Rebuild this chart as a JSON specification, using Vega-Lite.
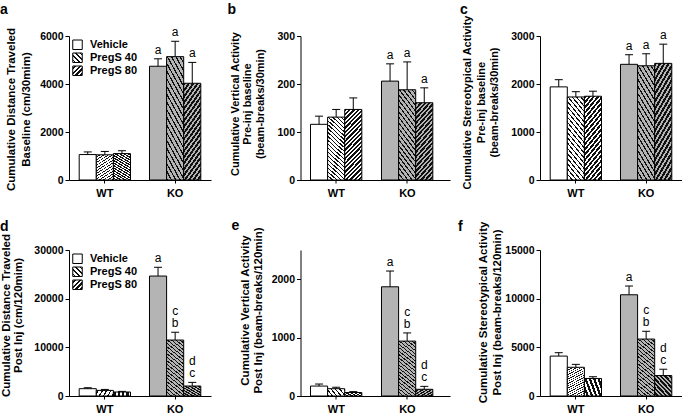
{
"$schema":"https://vega.github.io/schema/vega-lite/v6.json",
"padding":{"left":0,"top":2,"right":0,"bottom":0},
"config":{
 "view":{"stroke":null},
 "font":"Liberation Sans",
 "axis":{"labelFont":"Liberation Sans","labelFontWeight":"bold","labelFontSize":10.5,"labelColor":"#000","titleFont":"Liberation Sans","titleFontWeight":"bold","titleFontSize":11.5,"titleColor":"#000","domainColor":"#000","tickColor":"#000","grid":false,"tickSize":4,"labelPadding":2},
 "axisX":{"labelFontSize":11,"tickSize":3,"labelPadding":4,"labelAngle":0},
 "axisY":{"format":"d"},
 "title":{"font":"Liberation Sans","fontSize":14,"fontWeight":"bold","anchor":"start","frame":"group","color":"#000"},
 "tick":{"opacity":1}
},
"params":[
 {"name":"g40w","value":{"gradient":"linear","x1":0,"y1":1,"x2":0.2941,"y2":-0.1765,"stops":[
{"offset":0,"color":"#111"},{"offset":0.016,"color":"#111"},{"offset":0.016,"color":"#fff"},{"offset":0.05,"color":"#fff"},
{"offset":0.05,"color":"#111"},{"offset":0.066,"color":"#111"},{"offset":0.066,"color":"#fff"},{"offset":0.1,"color":"#fff"},
{"offset":0.1,"color":"#111"},{"offset":0.116,"color":"#111"},{"offset":0.116,"color":"#fff"},{"offset":0.15,"color":"#fff"},
{"offset":0.15,"color":"#111"},{"offset":0.166,"color":"#111"},{"offset":0.166,"color":"#fff"},{"offset":0.2,"color":"#fff"},
{"offset":0.2,"color":"#111"},{"offset":0.216,"color":"#111"},{"offset":0.216,"color":"#fff"},{"offset":0.25,"color":"#fff"},
{"offset":0.25,"color":"#111"},{"offset":0.266,"color":"#111"},{"offset":0.266,"color":"#fff"},{"offset":0.3,"color":"#fff"},
{"offset":0.3,"color":"#111"},{"offset":0.316,"color":"#111"},{"offset":0.316,"color":"#fff"},{"offset":0.35,"color":"#fff"},
{"offset":0.35,"color":"#111"},{"offset":0.366,"color":"#111"},{"offset":0.366,"color":"#fff"},{"offset":0.4,"color":"#fff"},
{"offset":0.4,"color":"#111"},{"offset":0.416,"color":"#111"},{"offset":0.416,"color":"#fff"},{"offset":0.45,"color":"#fff"},
{"offset":0.45,"color":"#111"},{"offset":0.466,"color":"#111"},{"offset":0.466,"color":"#fff"},{"offset":0.5,"color":"#fff"},
{"offset":0.5,"color":"#111"},{"offset":0.516,"color":"#111"},{"offset":0.516,"color":"#fff"},{"offset":0.55,"color":"#fff"},
{"offset":0.55,"color":"#111"},{"offset":0.566,"color":"#111"},{"offset":0.566,"color":"#fff"},{"offset":0.6,"color":"#fff"},
{"offset":0.6,"color":"#111"},{"offset":0.616,"color":"#111"},{"offset":0.616,"color":"#fff"},{"offset":0.65,"color":"#fff"},
{"offset":0.65,"color":"#111"},{"offset":0.666,"color":"#111"},{"offset":0.666,"color":"#fff"},{"offset":0.7,"color":"#fff"},
{"offset":0.7,"color":"#111"},{"offset":0.716,"color":"#111"},{"offset":0.716,"color":"#fff"},{"offset":0.75,"color":"#fff"},
{"offset":0.75,"color":"#111"},{"offset":0.766,"color":"#111"},{"offset":0.766,"color":"#fff"},{"offset":0.8,"color":"#fff"},
{"offset":0.8,"color":"#111"},{"offset":0.816,"color":"#111"},{"offset":0.816,"color":"#fff"},{"offset":0.85,"color":"#fff"},
{"offset":0.85,"color":"#111"},{"offset":0.866,"color":"#111"},{"offset":0.866,"color":"#fff"},{"offset":0.9,"color":"#fff"},
{"offset":0.9,"color":"#111"},{"offset":0.916,"color":"#111"},{"offset":0.916,"color":"#fff"},{"offset":0.95,"color":"#fff"},
{"offset":0.95,"color":"#111"},{"offset":0.966,"color":"#111"},{"offset":0.966,"color":"#fff"},{"offset":1,"color":"#fff"}]}},
 {"name":"g80w","value":{"gradient":"linear","x1":0,"y1":0,"x2":0.2941,"y2":1.1765,"stops":[
{"offset":0,"color":"#111"},{"offset":0.027,"color":"#111"},{"offset":0.027,"color":"#fff"},{"offset":0.05,"color":"#fff"},
{"offset":0.05,"color":"#111"},{"offset":0.077,"color":"#111"},{"offset":0.077,"color":"#fff"},{"offset":0.1,"color":"#fff"},
{"offset":0.1,"color":"#111"},{"offset":0.127,"color":"#111"},{"offset":0.127,"color":"#fff"},{"offset":0.15,"color":"#fff"},
{"offset":0.15,"color":"#111"},{"offset":0.177,"color":"#111"},{"offset":0.177,"color":"#fff"},{"offset":0.2,"color":"#fff"},
{"offset":0.2,"color":"#111"},{"offset":0.227,"color":"#111"},{"offset":0.227,"color":"#fff"},{"offset":0.25,"color":"#fff"},
{"offset":0.25,"color":"#111"},{"offset":0.277,"color":"#111"},{"offset":0.277,"color":"#fff"},{"offset":0.3,"color":"#fff"},
{"offset":0.3,"color":"#111"},{"offset":0.327,"color":"#111"},{"offset":0.327,"color":"#fff"},{"offset":0.35,"color":"#fff"},
{"offset":0.35,"color":"#111"},{"offset":0.377,"color":"#111"},{"offset":0.377,"color":"#fff"},{"offset":0.4,"color":"#fff"},
{"offset":0.4,"color":"#111"},{"offset":0.427,"color":"#111"},{"offset":0.427,"color":"#fff"},{"offset":0.45,"color":"#fff"},
{"offset":0.45,"color":"#111"},{"offset":0.477,"color":"#111"},{"offset":0.477,"color":"#fff"},{"offset":0.5,"color":"#fff"},
{"offset":0.5,"color":"#111"},{"offset":0.527,"color":"#111"},{"offset":0.527,"color":"#fff"},{"offset":0.55,"color":"#fff"},
{"offset":0.55,"color":"#111"},{"offset":0.577,"color":"#111"},{"offset":0.577,"color":"#fff"},{"offset":0.6,"color":"#fff"},
{"offset":0.6,"color":"#111"},{"offset":0.627,"color":"#111"},{"offset":0.627,"color":"#fff"},{"offset":0.65,"color":"#fff"},
{"offset":0.65,"color":"#111"},{"offset":0.677,"color":"#111"},{"offset":0.677,"color":"#fff"},{"offset":0.7,"color":"#fff"},
{"offset":0.7,"color":"#111"},{"offset":0.727,"color":"#111"},{"offset":0.727,"color":"#fff"},{"offset":0.75,"color":"#fff"},
{"offset":0.75,"color":"#111"},{"offset":0.777,"color":"#111"},{"offset":0.777,"color":"#fff"},{"offset":0.8,"color":"#fff"},
{"offset":0.8,"color":"#111"},{"offset":0.827,"color":"#111"},{"offset":0.827,"color":"#fff"},{"offset":0.85,"color":"#fff"},
{"offset":0.85,"color":"#111"},{"offset":0.877,"color":"#111"},{"offset":0.877,"color":"#fff"},{"offset":0.9,"color":"#fff"},
{"offset":0.9,"color":"#111"},{"offset":0.927,"color":"#111"},{"offset":0.927,"color":"#fff"},{"offset":0.95,"color":"#fff"},
{"offset":0.95,"color":"#111"},{"offset":0.977,"color":"#111"},{"offset":0.977,"color":"#fff"},{"offset":1,"color":"#fff"}]}},
 {"name":"g40k","value":{"gradient":"linear","x1":0,"y1":1,"x2":0.2941,"y2":-0.1765,"stops":[
{"offset":0,"color":"#111"},{"offset":0.016,"color":"#111"},{"offset":0.016,"color":"#b4b4b4"},{"offset":0.05,"color":"#b4b4b4"},
{"offset":0.05,"color":"#111"},{"offset":0.066,"color":"#111"},{"offset":0.066,"color":"#b4b4b4"},{"offset":0.1,"color":"#b4b4b4"},
{"offset":0.1,"color":"#111"},{"offset":0.116,"color":"#111"},{"offset":0.116,"color":"#b4b4b4"},{"offset":0.15,"color":"#b4b4b4"},
{"offset":0.15,"color":"#111"},{"offset":0.166,"color":"#111"},{"offset":0.166,"color":"#b4b4b4"},{"offset":0.2,"color":"#b4b4b4"},
{"offset":0.2,"color":"#111"},{"offset":0.216,"color":"#111"},{"offset":0.216,"color":"#b4b4b4"},{"offset":0.25,"color":"#b4b4b4"},
{"offset":0.25,"color":"#111"},{"offset":0.266,"color":"#111"},{"offset":0.266,"color":"#b4b4b4"},{"offset":0.3,"color":"#b4b4b4"},
{"offset":0.3,"color":"#111"},{"offset":0.316,"color":"#111"},{"offset":0.316,"color":"#b4b4b4"},{"offset":0.35,"color":"#b4b4b4"},
{"offset":0.35,"color":"#111"},{"offset":0.366,"color":"#111"},{"offset":0.366,"color":"#b4b4b4"},{"offset":0.4,"color":"#b4b4b4"},
{"offset":0.4,"color":"#111"},{"offset":0.416,"color":"#111"},{"offset":0.416,"color":"#b4b4b4"},{"offset":0.45,"color":"#b4b4b4"},
{"offset":0.45,"color":"#111"},{"offset":0.466,"color":"#111"},{"offset":0.466,"color":"#b4b4b4"},{"offset":0.5,"color":"#b4b4b4"},
{"offset":0.5,"color":"#111"},{"offset":0.516,"color":"#111"},{"offset":0.516,"color":"#b4b4b4"},{"offset":0.55,"color":"#b4b4b4"},
{"offset":0.55,"color":"#111"},{"offset":0.566,"color":"#111"},{"offset":0.566,"color":"#b4b4b4"},{"offset":0.6,"color":"#b4b4b4"},
{"offset":0.6,"color":"#111"},{"offset":0.616,"color":"#111"},{"offset":0.616,"color":"#b4b4b4"},{"offset":0.65,"color":"#b4b4b4"},
{"offset":0.65,"color":"#111"},{"offset":0.666,"color":"#111"},{"offset":0.666,"color":"#b4b4b4"},{"offset":0.7,"color":"#b4b4b4"},
{"offset":0.7,"color":"#111"},{"offset":0.716,"color":"#111"},{"offset":0.716,"color":"#b4b4b4"},{"offset":0.75,"color":"#b4b4b4"},
{"offset":0.75,"color":"#111"},{"offset":0.766,"color":"#111"},{"offset":0.766,"color":"#b4b4b4"},{"offset":0.8,"color":"#b4b4b4"},
{"offset":0.8,"color":"#111"},{"offset":0.816,"color":"#111"},{"offset":0.816,"color":"#b4b4b4"},{"offset":0.85,"color":"#b4b4b4"},
{"offset":0.85,"color":"#111"},{"offset":0.866,"color":"#111"},{"offset":0.866,"color":"#b4b4b4"},{"offset":0.9,"color":"#b4b4b4"},
{"offset":0.9,"color":"#111"},{"offset":0.916,"color":"#111"},{"offset":0.916,"color":"#b4b4b4"},{"offset":0.95,"color":"#b4b4b4"},
{"offset":0.95,"color":"#111"},{"offset":0.966,"color":"#111"},{"offset":0.966,"color":"#b4b4b4"},{"offset":1,"color":"#b4b4b4"}]}},
 {"name":"g80k","value":{"gradient":"linear","x1":0,"y1":0,"x2":0.2941,"y2":1.1765,"stops":[
{"offset":0,"color":"#111"},{"offset":0.027,"color":"#111"},{"offset":0.027,"color":"#b4b4b4"},{"offset":0.05,"color":"#b4b4b4"},
{"offset":0.05,"color":"#111"},{"offset":0.077,"color":"#111"},{"offset":0.077,"color":"#b4b4b4"},{"offset":0.1,"color":"#b4b4b4"},
{"offset":0.1,"color":"#111"},{"offset":0.127,"color":"#111"},{"offset":0.127,"color":"#b4b4b4"},{"offset":0.15,"color":"#b4b4b4"},
{"offset":0.15,"color":"#111"},{"offset":0.177,"color":"#111"},{"offset":0.177,"color":"#b4b4b4"},{"offset":0.2,"color":"#b4b4b4"},
{"offset":0.2,"color":"#111"},{"offset":0.227,"color":"#111"},{"offset":0.227,"color":"#b4b4b4"},{"offset":0.25,"color":"#b4b4b4"},
{"offset":0.25,"color":"#111"},{"offset":0.277,"color":"#111"},{"offset":0.277,"color":"#b4b4b4"},{"offset":0.3,"color":"#b4b4b4"},
{"offset":0.3,"color":"#111"},{"offset":0.327,"color":"#111"},{"offset":0.327,"color":"#b4b4b4"},{"offset":0.35,"color":"#b4b4b4"},
{"offset":0.35,"color":"#111"},{"offset":0.377,"color":"#111"},{"offset":0.377,"color":"#b4b4b4"},{"offset":0.4,"color":"#b4b4b4"},
{"offset":0.4,"color":"#111"},{"offset":0.427,"color":"#111"},{"offset":0.427,"color":"#b4b4b4"},{"offset":0.45,"color":"#b4b4b4"},
{"offset":0.45,"color":"#111"},{"offset":0.477,"color":"#111"},{"offset":0.477,"color":"#b4b4b4"},{"offset":0.5,"color":"#b4b4b4"},
{"offset":0.5,"color":"#111"},{"offset":0.527,"color":"#111"},{"offset":0.527,"color":"#b4b4b4"},{"offset":0.55,"color":"#b4b4b4"},
{"offset":0.55,"color":"#111"},{"offset":0.577,"color":"#111"},{"offset":0.577,"color":"#b4b4b4"},{"offset":0.6,"color":"#b4b4b4"},
{"offset":0.6,"color":"#111"},{"offset":0.627,"color":"#111"},{"offset":0.627,"color":"#b4b4b4"},{"offset":0.65,"color":"#b4b4b4"},
{"offset":0.65,"color":"#111"},{"offset":0.677,"color":"#111"},{"offset":0.677,"color":"#b4b4b4"},{"offset":0.7,"color":"#b4b4b4"},
{"offset":0.7,"color":"#111"},{"offset":0.727,"color":"#111"},{"offset":0.727,"color":"#b4b4b4"},{"offset":0.75,"color":"#b4b4b4"},
{"offset":0.75,"color":"#111"},{"offset":0.777,"color":"#111"},{"offset":0.777,"color":"#b4b4b4"},{"offset":0.8,"color":"#b4b4b4"},
{"offset":0.8,"color":"#111"},{"offset":0.827,"color":"#111"},{"offset":0.827,"color":"#b4b4b4"},{"offset":0.85,"color":"#b4b4b4"},
{"offset":0.85,"color":"#111"},{"offset":0.877,"color":"#111"},{"offset":0.877,"color":"#b4b4b4"},{"offset":0.9,"color":"#b4b4b4"},
{"offset":0.9,"color":"#111"},{"offset":0.927,"color":"#111"},{"offset":0.927,"color":"#b4b4b4"},{"offset":0.95,"color":"#b4b4b4"},
{"offset":0.95,"color":"#111"},{"offset":0.977,"color":"#111"},{"offset":0.977,"color":"#b4b4b4"},{"offset":1,"color":"#b4b4b4"}]}},
 {"name":"l40","value":{"gradient":"linear","x1":0,"y1":1,"x2":1,"y2":0,"stops":[
{"offset":0,"color":"#fff"},{"offset":0.1,"color":"#fff"},{"offset":0.1,"color":"#111"},{"offset":0.18,"color":"#111"},{"offset":0.18,"color":"#fff"},
{"offset":0.35,"color":"#fff"},{"offset":0.35,"color":"#111"},{"offset":0.43,"color":"#111"},{"offset":0.43,"color":"#fff"},
{"offset":0.6,"color":"#fff"},{"offset":0.6,"color":"#111"},{"offset":0.68,"color":"#111"},{"offset":0.68,"color":"#fff"},
{"offset":0.85,"color":"#fff"},{"offset":0.85,"color":"#111"},{"offset":0.93,"color":"#111"},{"offset":0.93,"color":"#fff"},{"offset":1,"color":"#fff"}]}},
 {"name":"l80","value":{"gradient":"linear","x1":0,"y1":0,"x2":1,"y2":1,"stops":[
{"offset":0,"color":"#fff"},{"offset":0.09,"color":"#fff"},{"offset":0.09,"color":"#111"},{"offset":0.21,"color":"#111"},{"offset":0.21,"color":"#fff"},
{"offset":0.34,"color":"#fff"},{"offset":0.34,"color":"#111"},{"offset":0.46,"color":"#111"},{"offset":0.46,"color":"#fff"},
{"offset":0.59,"color":"#fff"},{"offset":0.59,"color":"#111"},{"offset":0.71,"color":"#111"},{"offset":0.71,"color":"#fff"},
{"offset":0.84,"color":"#fff"},{"offset":0.84,"color":"#111"},{"offset":0.96,"color":"#111"},{"offset":0.96,"color":"#fff"},{"offset":1,"color":"#fff"}]}}
],
"data":{"values":[
{"p":"a","g":"WT","t":"Vehicle","m":1060,"u":1170},
{"p":"a","g":"WT","t":"PregS 40","m":1050,"u":1190},
{"p":"a","g":"WT","t":"PregS 80","m":1100,"u":1220},
{"p":"a","g":"KO","t":"Vehicle","m":4740,"u":5050,"l2":"a"},
{"p":"a","g":"KO","t":"PregS 40","m":5140,"u":5780,"l2":"a"},
{"p":"a","g":"KO","t":"PregS 80","m":4030,"u":4900,"l2":"a"},
{"p":"b","g":"WT","t":"Vehicle","m":116,"u":133},
{"p":"b","g":"WT","t":"PregS 40","m":131,"u":147},
{"p":"b","g":"WT","t":"PregS 80","m":147,"u":171},
{"p":"b","g":"KO","t":"Vehicle","m":206,"u":242,"l2":"a"},
{"p":"b","g":"KO","t":"PregS 40","m":188,"u":246,"l2":"a"},
{"p":"b","g":"KO","t":"PregS 80","m":161,"u":192,"l2":"a"},
{"p":"c","g":"WT","t":"Vehicle","m":1940,"u":2090},
{"p":"c","g":"WT","t":"PregS 40","m":1730,"u":1840},
{"p":"c","g":"WT","t":"PregS 80","m":1745,"u":1850},
{"p":"c","g":"KO","t":"Vehicle","m":2410,"u":2610,"l2":"a"},
{"p":"c","g":"KO","t":"PregS 40","m":2380,"u":2630,"l2":"a"},
{"p":"c","g":"KO","t":"PregS 80","m":2430,"u":2830,"l2":"a"},
{"p":"d","g":"WT","t":"Vehicle","m":1500,"u":1700},
{"p":"d","g":"WT","t":"PregS 40","m":1150,"u":1350},
{"p":"d","g":"WT","t":"PregS 80","m":820,"u":950},
{"p":"d","g":"KO","t":"Vehicle","m":24650,"u":26450,"l2":"a"},
{"p":"d","g":"KO","t":"PregS 40","m":11500,"u":13100,"l1":"c","l2":"b"},
{"p":"d","g":"KO","t":"PregS 80","m":2050,"u":2800,"l1":"d","l2":"c"},
{"p":"e","g":"WT","t":"Vehicle","m":170,"u":205},
{"p":"e","g":"WT","t":"PregS 40","m":125,"u":150},
{"p":"e","g":"WT","t":"PregS 80","m":60,"u":75},
{"p":"e","g":"KO","t":"Vehicle","m":1870,"u":2140,"l2":"a"},
{"p":"e","g":"KO","t":"PregS 40","m":940,"u":1080,"l1":"c","l2":"b"},
{"p":"e","g":"KO","t":"PregS 80","m":115,"u":165,"l1":"d","l2":"c"},
{"p":"f","g":"WT","t":"Vehicle","m":4100,"u":4450},
{"p":"f","g":"WT","t":"PregS 40","m":2950,"u":3250},
{"p":"f","g":"WT","t":"PregS 80","m":1800,"u":1980},
{"p":"f","g":"KO","t":"Vehicle","m":10400,"u":11300,"l2":"a"},
{"p":"f","g":"KO","t":"PregS 40","m":5850,"u":6650,"l1":"c","l2":"b"},
{"p":"f","g":"KO","t":"PregS 80","m":2100,"u":2750,"l1":"d","l2":"c"}
]},
"columns":3,
"bounds":"flush",
"align":"each",
"spacing":{"row":70,"column":89.5},
"resolve":{"legend":{"fill":"independent"}},
"concat":[
{"width":142,"height":144,
 "title":{"text":"a","dx":-69,"offset":9},
 "transform":[{"filter":"datum.p==='a'"}],
 "encoding":{
  "x":{"field":"g","type":"nominal","sort":["WT","KO"],"scale":{"paddingInner":0.27,"paddingOuter":0.145},"axis":{"title":null}},
  "xOffset":{"field":"t","type":"nominal","sort":["Vehicle","PregS 40","PregS 80"],"scale":{"paddingInner":0,"paddingOuter":0}}
 },
 "layer":[
  {"mark":{"type":"bar","stroke":"#000","strokeWidth":1},
   "encoding":{
    "y":{"field":"m","type":"quantitative","scale":{"domain":[0,6000],"nice":false},"axis":{"title":["Cumulative  Distance Traveled","Baseline (cm/30mim)"],"values":[0,2000,4000,6000],"titleLineHeight":15,"titlePadding":9,"titleY":73,"minExtent":29,"maxExtent":29}},
    "fill":{"field":"t","type":"nominal","scale":{"domain":["Vehicle","PregS 40","PregS 80"],"range":["#fff",{"expr":"l40"},{"expr":"l80"}]},
     "condition":[
      {"test":"datum.g==='WT'&&datum.t==='PregS 40'","value":{"expr":"g40w"}},
      {"test":"datum.g==='WT'&&datum.t==='PregS 80'","value":{"expr":"g80w"}},
      {"test":"datum.g==='KO'&&datum.t==='PregS 40'","value":{"expr":"g40k"}},
      {"test":"datum.g==='KO'&&datum.t==='PregS 80'","value":{"expr":"g80k"}},
      {"test":"datum.g==='KO'","value":"#b4b4b4"}],
     "legend":{"title":null,"orient":"top-left","offset":3,"padding":0,"symbolType":"square","symbolSize":90,"symbolStrokeColor":"#000","symbolStrokeWidth":1,"symbolOpacity":1,"labelFont":"Liberation Sans","labelFontSize":11,"labelFontWeight":"bold","labelColor":"#000","labelOffset":7,"rowPadding":0,"clipHeight":11.5}}
   }},
  {"mark":{"type":"rule","color":"#000","strokeWidth":1},"encoding":{"y":{"field":"m","type":"quantitative"},"y2":{"field":"u"}}},
  {"mark":{"type":"tick","orient":"horizontal","color":"#000","size":8,"thickness":1},"encoding":{"y":{"field":"u","type":"quantitative"}}},
  {"transform":[{"filter":"datum.l2"}],"mark":{"type":"text","baseline":"bottom","dy":-2,"fontSize":12,"color":"#000"},"encoding":{"y":{"field":"u","type":"quantitative"},"text":{"field":"l2","type":"nominal"}}}
 ]},
{"width":149.5,"height":144,
 "title":{"text":"b","dx":-73,"offset":14.5},
 "transform":[{"filter":"datum.p==='b'"}],
 "encoding":{
  "x":{"field":"g","type":"nominal","sort":["WT","KO"],"scale":{"paddingInner":0.27,"paddingOuter":0.188,"align":0.375},"axis":{"title":null}},
  "xOffset":{"field":"t","type":"nominal","sort":["Vehicle","PregS 40","PregS 80"],"scale":{"paddingInner":0,"paddingOuter":0}}
 },
 "layer":[
  {"mark":{"type":"bar","stroke":"#000","strokeWidth":1},
   "encoding":{
    "y":{"field":"m","type":"quantitative","scale":{"domain":[0,300],"nice":false},"axis":{"title":["Cumulative Vertical Activity","Pre-inj baseline","(beam-breaks/30min)"],"values":[0,100,200,300],"titleFontSize":11,"titleLineHeight":12.5,"titlePadding":12,"titleY":67.5,"minExtent":23.5,"maxExtent":23.5}},
    "fill":{"field":"t","type":"nominal","scale":{"domain":["Vehicle","PregS 40","PregS 80"],"range":["#fff",{"expr":"l40"},{"expr":"l80"}]},
     "condition":[
      {"test":"datum.g==='WT'&&datum.t==='PregS 40'","value":{"expr":"g40w"}},
      {"test":"datum.g==='WT'&&datum.t==='PregS 80'","value":{"expr":"g80w"}},
      {"test":"datum.g==='KO'&&datum.t==='PregS 40'","value":{"expr":"g40k"}},
      {"test":"datum.g==='KO'&&datum.t==='PregS 80'","value":{"expr":"g80k"}},
      {"test":"datum.g==='KO'","value":"#b4b4b4"}],
     "legend":null}
   }},
  {"mark":{"type":"rule","color":"#000","strokeWidth":1},"encoding":{"y":{"field":"m","type":"quantitative"},"y2":{"field":"u"}}},
  {"mark":{"type":"tick","orient":"horizontal","color":"#000","size":8,"thickness":1},"encoding":{"y":{"field":"u","type":"quantitative"}}},
  {"transform":[{"filter":"datum.l2"}],"mark":{"type":"text","baseline":"bottom","dy":-2,"fontSize":12,"color":"#000"},"encoding":{"y":{"field":"u","type":"quantitative"},"text":{"field":"l2","type":"nominal"}}}
 ]},
{"width":142,"height":144,
 "title":{"text":"c","dx":-80,"offset":-2},
 "transform":[{"filter":"datum.p==='c'"}],
 "encoding":{
  "x":{"field":"g","type":"nominal","sort":["WT","KO"],"scale":{"paddingInner":0.27,"paddingOuter":0.145},"axis":{"title":null}},
  "xOffset":{"field":"t","type":"nominal","sort":["Vehicle","PregS 40","PregS 80"],"scale":{"paddingInner":0,"paddingOuter":0}}
 },
 "layer":[
  {"mark":{"type":"bar","stroke":"#000","strokeWidth":1},
   "encoding":{
    "y":{"field":"m","type":"quantitative","scale":{"domain":[0,3000],"nice":false},"axis":{"title":["Cumulative Stereotypical Activity","Pre-inj baseline","(beam-breaks/30min)"],"values":[0,1000,2000,3000],"titleFontSize":11,"titleLineHeight":13.5,"titlePadding":11.5,"titleY":66,"minExtent":29,"maxExtent":29}},
    "fill":{"field":"t","type":"nominal","scale":{"domain":["Vehicle","PregS 40","PregS 80"],"range":["#fff",{"expr":"l40"},{"expr":"l80"}]},
     "condition":[
      {"test":"datum.g==='WT'&&datum.t==='PregS 40'","value":{"expr":"g40w"}},
      {"test":"datum.g==='WT'&&datum.t==='PregS 80'","value":{"expr":"g80w"}},
      {"test":"datum.g==='KO'&&datum.t==='PregS 40'","value":{"expr":"g40k"}},
      {"test":"datum.g==='KO'&&datum.t==='PregS 80'","value":{"expr":"g80k"}},
      {"test":"datum.g==='KO'","value":"#b4b4b4"}],
     "legend":null}
   }},
  {"mark":{"type":"rule","color":"#000","strokeWidth":1},"encoding":{"y":{"field":"m","type":"quantitative"},"y2":{"field":"u"}}},
  {"mark":{"type":"tick","orient":"horizontal","color":"#000","size":8,"thickness":1},"encoding":{"y":{"field":"u","type":"quantitative"}}},
  {"transform":[{"filter":"datum.l2"}],"mark":{"type":"text","baseline":"bottom","dy":-2,"fontSize":12,"color":"#000"},"encoding":{"y":{"field":"u","type":"quantitative"},"text":{"field":"l2","type":"nominal"}}}
 ]},
{"width":142,"height":146,
 "title":{"text":"d","dx":-69,"offset":-0.5},
 "transform":[{"filter":"datum.p==='d'"}],
 "encoding":{
  "x":{"field":"g","type":"nominal","sort":["WT","KO"],"scale":{"paddingInner":0.27,"paddingOuter":0.145},"axis":{"title":null}},
  "xOffset":{"field":"t","type":"nominal","sort":["Vehicle","PregS 40","PregS 80"],"scale":{"paddingInner":0,"paddingOuter":0}}
 },
 "layer":[
  {"mark":{"type":"bar","stroke":"#000","strokeWidth":1},
   "encoding":{
    "y":{"field":"m","type":"quantitative","scale":{"domain":[0,30000],"nice":false},"axis":{"title":["Cumulative Distance Traveled","Post Inj (cm/120mim)"],"values":[0,10000,20000,30000],"titleLineHeight":12.5,"titlePadding":10.5,"titleY":65,"minExtent":35,"maxExtent":35}},
    "fill":{"field":"t","type":"nominal","scale":{"domain":["Vehicle","PregS 40","PregS 80"],"range":["#fff",{"expr":"l40"},{"expr":"l80"}]},
     "condition":[
      {"test":"datum.g==='WT'&&datum.t==='PregS 40'","value":{"expr":"g40w"}},
      {"test":"datum.g==='WT'&&datum.t==='PregS 80'","value":{"expr":"g80w"}},
      {"test":"datum.g==='KO'&&datum.t==='PregS 40'","value":{"expr":"g40k"}},
      {"test":"datum.g==='KO'&&datum.t==='PregS 80'","value":{"expr":"g80k"}},
      {"test":"datum.g==='KO'","value":"#b4b4b4"}],
     "legend":{"title":null,"orient":"top-left","offset":3,"padding":0,"symbolType":"square","symbolSize":90,"symbolStrokeColor":"#000","symbolStrokeWidth":1,"symbolOpacity":1,"labelFont":"Liberation Sans","labelFontSize":11,"labelFontWeight":"bold","labelColor":"#000","labelOffset":7,"rowPadding":0,"clipHeight":11.5}}
   }},
  {"mark":{"type":"rule","color":"#000","strokeWidth":1},"encoding":{"y":{"field":"m","type":"quantitative"},"y2":{"field":"u"}}},
  {"mark":{"type":"tick","orient":"horizontal","color":"#000","size":8,"thickness":1},"encoding":{"y":{"field":"u","type":"quantitative"}}},
  {"transform":[{"filter":"datum.l2"}],"mark":{"type":"text","baseline":"bottom","dy":-2,"fontSize":12,"color":"#000"},"encoding":{"y":{"field":"u","type":"quantitative"},"text":{"field":"l2","type":"nominal"}}},
  {"transform":[{"filter":"datum.l1"}],"mark":{"type":"text","baseline":"bottom","dy":-14,"fontSize":12,"color":"#000"},"encoding":{"y":{"field":"u","type":"quantitative"},"text":{"field":"l1","type":"nominal"}}}
 ]},
{"width":149.5,"height":146,
 "title":{"text":"e","dx":-69,"offset":-6.5},
 "transform":[{"filter":"datum.p==='e'"}],
 "encoding":{
  "x":{"field":"g","type":"nominal","sort":["WT","KO"],"scale":{"paddingInner":0.27,"paddingOuter":0.188,"align":0.375},"axis":{"title":null}},
  "xOffset":{"field":"t","type":"nominal","sort":["Vehicle","PregS 40","PregS 80"],"scale":{"paddingInner":0,"paddingOuter":0}}
 },
 "layer":[
  {"mark":{"type":"bar","stroke":"#000","strokeWidth":1},
   "encoding":{
    "y":{"field":"m","type":"quantitative","scale":{"domain":[0,2500],"nice":false},"axis":{"title":["Cumulative Vertical Activity","Post Inj (beam-breaks/120min)"],"values":[0,500,1000,1500,2000,2500],"titleLineHeight":13,"titlePadding":8,"titleY":60,"minExtent":29,"maxExtent":29}},
    "fill":{"field":"t","type":"nominal","scale":{"domain":["Vehicle","PregS 40","PregS 80"],"range":["#fff",{"expr":"l40"},{"expr":"l80"}]},
     "condition":[
      {"test":"datum.g==='WT'&&datum.t==='PregS 40'","value":{"expr":"g40w"}},
      {"test":"datum.g==='WT'&&datum.t==='PregS 80'","value":{"expr":"g80w"}},
      {"test":"datum.g==='KO'&&datum.t==='PregS 40'","value":{"expr":"g40k"}},
      {"test":"datum.g==='KO'&&datum.t==='PregS 80'","value":{"expr":"g80k"}},
      {"test":"datum.g==='KO'","value":"#b4b4b4"}],
     "legend":null}
   }},
  {"mark":{"type":"rule","color":"#000","strokeWidth":1},"encoding":{"y":{"field":"m","type":"quantitative"},"y2":{"field":"u"}}},
  {"mark":{"type":"tick","orient":"horizontal","color":"#000","size":8,"thickness":1},"encoding":{"y":{"field":"u","type":"quantitative"}}},
  {"transform":[{"filter":"datum.l2"}],"mark":{"type":"text","baseline":"bottom","dy":-2,"fontSize":12,"color":"#000"},"encoding":{"y":{"field":"u","type":"quantitative"},"text":{"field":"l2","type":"nominal"}}},
  {"transform":[{"filter":"datum.l1"}],"mark":{"type":"text","baseline":"bottom","dy":-14,"fontSize":12,"color":"#000"},"encoding":{"y":{"field":"u","type":"quantitative"},"text":{"field":"l1","type":"nominal"}}}
 ]},
{"width":142,"height":146,
 "title":{"text":"f","dx":-82,"offset":-13.5},
 "transform":[{"filter":"datum.p==='f'"}],
 "encoding":{
  "x":{"field":"g","type":"nominal","sort":["WT","KO"],"scale":{"paddingInner":0.27,"paddingOuter":0.145},"axis":{"title":null}},
  "xOffset":{"field":"t","type":"nominal","sort":["Vehicle","PregS 40","PregS 80"],"scale":{"paddingInner":0,"paddingOuter":0}}
 },
 "layer":[
  {"mark":{"type":"bar","stroke":"#000","strokeWidth":1},
   "encoding":{
    "y":{"field":"m","type":"quantitative","scale":{"domain":[0,15000],"nice":false},"axis":{"title":["Cumulative Stereotypical Activity","Post Inj (beam-breaks/120min)"],"values":[0,5000,10000,15000],"titleLineHeight":14,"titlePadding":3,"titleY":62,"minExtent":35,"maxExtent":35}},
    "fill":{"field":"t","type":"nominal","scale":{"domain":["Vehicle","PregS 40","PregS 80"],"range":["#fff",{"expr":"l40"},{"expr":"l80"}]},
     "condition":[
      {"test":"datum.g==='WT'&&datum.t==='PregS 40'","value":{"expr":"g40w"}},
      {"test":"datum.g==='WT'&&datum.t==='PregS 80'","value":{"expr":"g80w"}},
      {"test":"datum.g==='KO'&&datum.t==='PregS 40'","value":{"expr":"g40k"}},
      {"test":"datum.g==='KO'&&datum.t==='PregS 80'","value":{"expr":"g80k"}},
      {"test":"datum.g==='KO'","value":"#b4b4b4"}],
     "legend":null}
   }},
  {"mark":{"type":"rule","color":"#000","strokeWidth":1},"encoding":{"y":{"field":"m","type":"quantitative"},"y2":{"field":"u"}}},
  {"mark":{"type":"tick","orient":"horizontal","color":"#000","size":8,"thickness":1},"encoding":{"y":{"field":"u","type":"quantitative"}}},
  {"transform":[{"filter":"datum.l2"}],"mark":{"type":"text","baseline":"bottom","dy":-2,"fontSize":12,"color":"#000"},"encoding":{"y":{"field":"u","type":"quantitative"},"text":{"field":"l2","type":"nominal"}}},
  {"transform":[{"filter":"datum.l1"}],"mark":{"type":"text","baseline":"bottom","dy":-14,"fontSize":12,"color":"#000"},"encoding":{"y":{"field":"u","type":"quantitative"},"text":{"field":"l1","type":"nominal"}}}
 ]}
]
}
